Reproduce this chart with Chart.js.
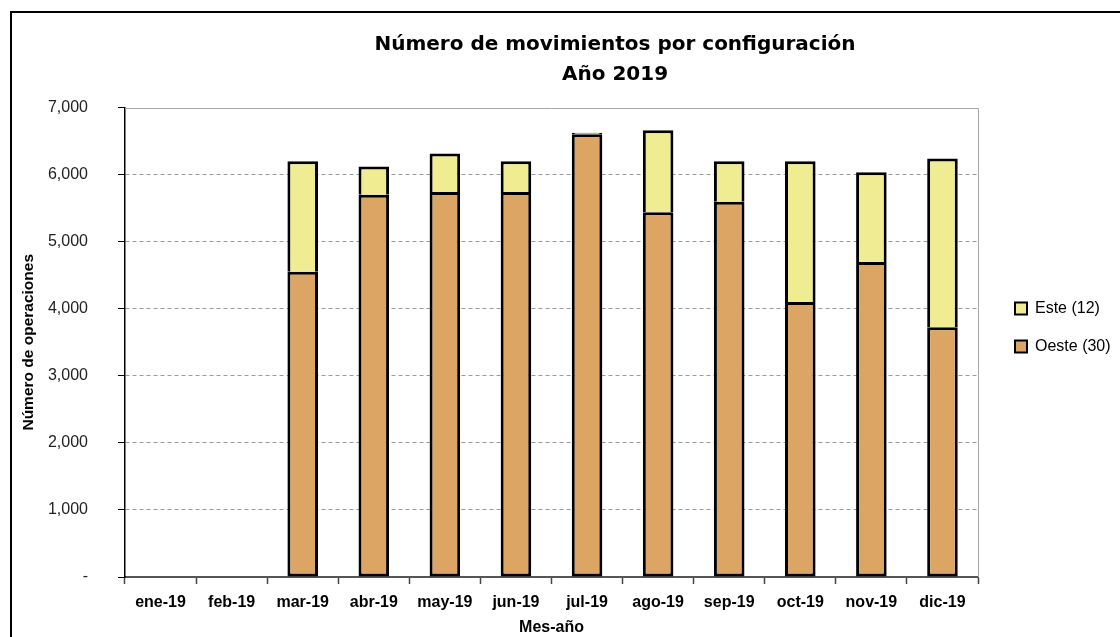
<!DOCTYPE html>
<html>
<head>
<meta charset="utf-8">
<script src="https://cdn.jsdelivr.net/npm/chart.js@4.4.1/dist/chart.umd.min.js"></script>
<style>
  html, body { margin: 0; padding: 0; background: #fff; overflow: hidden; }
  #wrap { position: relative; width: 1120px; height: 637px; overflow: hidden; }
  #frame { position: absolute; left: 10px; top: 11px; width: 1200px; height: 700px; border: 2px solid #000; box-sizing: border-box; pointer-events: none; }
  canvas { position: absolute; left: 0; top: 0; }
</style>
</head>
<body>
<div id="wrap">
  <canvas id="c" width="1120" height="637"></canvas>
  <div id="frame"></div>
</div>
<script>
const categories = ['ene-19','feb-19','mar-19','abr-19','may-19','jun-19','jul-19','ago-19','sep-19','oct-19','nov-19','dic-19'];
const oesteValues = [null, null, 4550, 5700, 5740, 5740, 6600, 5440, 5595, 4100, 4695, 3725];
const esteValues  = [null, null, 1650, 420, 575, 460, 25, 1220, 605, 2100, 1340, 2515];
const yTicks = [0, 1000, 2000, 3000, 4000, 5000, 6000, 7000];
const titleLines = ['Número de movimientos por configuración', 'Año 2019'];
const seriesNames = ['Oeste (30)', 'Este (12)'];

const PLOT_LEFT = 125, PLOT_RIGHT = 978, PLOT_BOTTOM = 577;

const framePlugin = {
  id: 'frame',
  beforeInit(chart) {
    const lg = chart.legend;
    if (lg) {
      const orig = lg.fit.bind(lg);
      lg.fit = function () { orig(); this.width = 1120 - PLOT_RIGHT; };
    }
  },
  afterLayout(chart) {
    const t = chart.titleBlock;
    if (t) { t.left += 110; }
    const lg = chart.legend;
    if (lg) {
      lg.left += 15; lg.right += 15;
      lg.top += 9; lg.bottom += 9;
    }
  },
  beforeDatasetsDraw(chart) {
    const {ctx, chartArea: a} = chart;
    ctx.save();
    ctx.strokeStyle = '#a6a6a6';
    ctx.lineWidth = 1;
    ctx.beginPath();
    ctx.moveTo(a.left, Math.round(a.top) + 0.5);
    ctx.lineTo(Math.round(a.right) + 0.5, Math.round(a.top) + 0.5);
    ctx.lineTo(Math.round(a.right) + 0.5, a.bottom);
    ctx.stroke();
    ctx.restore();
  }
};

new Chart(document.getElementById('c'), {
  type: 'bar',
  data: {
    labels: categories,
    datasets: [
      { label: seriesNames[0], data: oesteValues, backgroundColor: '#DDA563', borderColor: '#000', borderWidth: 3, borderSkipped: false, inflateAmount: 0, stack: 's' },
      { label: seriesNames[1], data: esteValues, backgroundColor: '#F0EC91', borderColor: '#000', borderWidth: 3, borderSkipped: 'start', inflateAmount: 0, stack: 's' }
    ]
  },
  options: {
    responsive: false,
    animation: false,
    devicePixelRatio: 1,
    layout: { padding: 0 },
    datasets: { bar: { categoryPercentage: 1, barPercentage: 0.43 } },
    font: { family: "'Liberation Sans', Arial, sans-serif" },
    plugins: {
      tooltip: { enabled: false },
      title: {
        display: true,
        text: titleLines,
        color: '#000',
        font: { family: "'DejaVu Sans', Verdana, sans-serif", size: 20, weight: 'bold', lineHeight: 1.5 },
        padding: { top: 30, bottom: 17.5 }
      },
      legend: {
        display: true,
        position: 'right',
        align: 'center',
        reverse: true,
        labels: {
          color: '#000',
          boxWidth: 12,
          boxHeight: 12,
          padding: 22,
          font: { family: "'Liberation Sans', Arial, sans-serif", size: 16 },
          generateLabels(chart) {
            return chart.data.datasets.map((ds, i) => ({
              text: ds.label, fillStyle: ds.backgroundColor, strokeStyle: '#000', lineWidth: 2,
              hidden: false, datasetIndex: i, fontColor: '#000'
            }));
          }
        }
      }
    },
    scales: {
      x: {
        stacked: true,
        afterFit(s) { s.height = 637 - PLOT_BOTTOM; },
        grid: { display: true, drawOnChartArea: false, offset: true, tickLength: 7, tickColor: '#444', tickWidth: 1.5 },
        border: { display: true, color: '#555', width: 2 },
        ticks: { color: '#000', padding: 9, maxRotation: 0, autoSkip: false, font: { family: "'Liberation Sans', Arial, sans-serif", size: 16, weight: 'bold' } },
        title: { display: true, text: 'Mes-año', color: '#000', padding: { top: 0, bottom: 0 }, font: { family: "'Liberation Sans', Arial, sans-serif", size: 16, weight: 'bold', lineHeight: 1.2 } }
      },
      y: {
        stacked: true,
        min: 0, max: 7000,
        afterFit(s) { s.width = PLOT_LEFT; },
        afterBuildTicks(s) { s.ticks = yTicks.map(v => ({ value: v })); },
        grid: {
          display: true, drawOnChartArea: true, tickLength: 7, tickColor: '#000', tickWidth: 1,
          color: (ctx) => (ctx.tick && (ctx.tick.value === 0 || ctx.tick.value === 7000)) ? 'rgba(0,0,0,0)' : '#9a9a9a',
          lineWidth: 1
        },
        border: { display: true, color: '#000', width: 1.5, dash: [4, 3] },
        ticks: {
          color: '#222', padding: 30,
          font: { family: "'Liberation Sans', Arial, sans-serif", size: 16 },
          callback: (v) => v === 0 ? '-' : Number(v).toLocaleString('en-US')
        },
        title: { display: true, text: 'Número de operaciones', color: '#000', padding: { top: 19, bottom: 0 }, font: { family: "'Liberation Sans', Arial, sans-serif", size: 15.5, weight: 'bold', lineHeight: 1.2 } }
      }
    }
  },
  plugins: [framePlugin]
});
</script>
</body>
</html>
